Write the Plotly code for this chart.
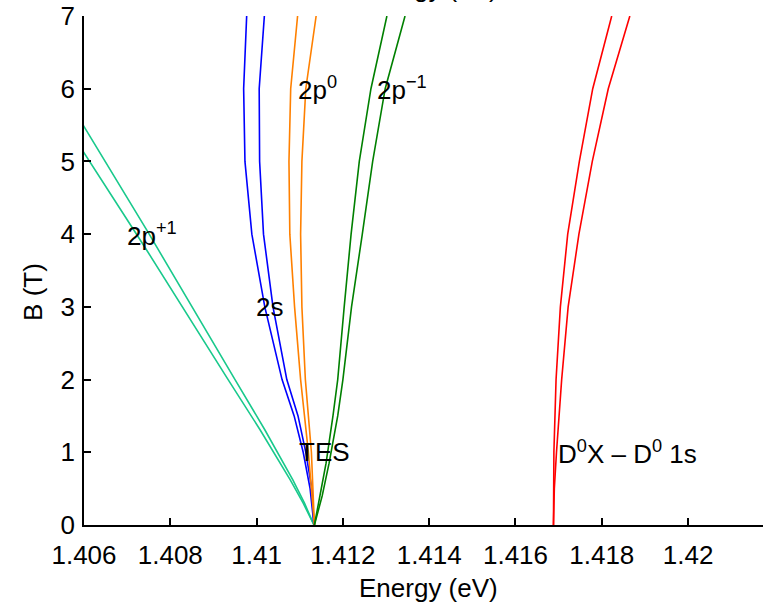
import plotly.graph_objects as go

# ---- data ----
# 2p+1 (teal)
b_2pp1_a = [0, 0.3, 0.62, 1.0, 1.31, 2, 2.68, 3.1, 3.83, 5.11, 5.30]
e_2pp1_a = [1.41133, 1.41108, 1.41078, 1.41040, 1.41008, 1.40934, 1.40862, 1.40817, 1.40740, 1.40601, 1.40581]
b_2pp1_b = [0, 0.3, 0.62, 1.0, 1.31, 2, 2.68, 3.1, 4.03, 5.44, 5.64]
e_2pp1_b = [1.41133, 1.41111, 1.41084, 1.41049, 1.41019, 1.40950, 1.40882, 1.40840, 1.40748, 1.40604, 1.40584]

# 2s (blue)
b_2s = [0, 0.5, 1, 1.5, 2, 3, 4, 5, 6, 7]
e_2s_a = [1.41133, 1.41124, 1.41108, 1.41087, 1.41059, 1.41019, 1.40989, 1.40973, 1.40970, 1.40977]
e_2s_b = [1.41133, 1.41128, 1.41114, 1.41096, 1.41070, 1.41038, 1.41016, 1.41007, 1.41006, 1.41018]

# 2p0 (orange)
b_2p0 = [0, 0.5, 1, 1.5, 2, 3, 4, 5, 6, 7]
e_2p0_a = [1.41134, 1.41127, 1.41120, 1.41111, 1.41102, 1.41088, 1.41077, 1.41075, 1.41079, 1.41095]
e_2p0_b = [1.41134, 1.41131, 1.41127, 1.41120, 1.41113, 1.41105, 1.41102, 1.41105, 1.41114, 1.41138]

# 2p-1 (green)
b_2pm1 = [0, 0.4, 0.85, 1.5, 2, 3, 4, 5, 6, 7]
e_2pm1_a = [1.41134, 1.41147, 1.41161, 1.41177, 1.41188, 1.41203, 1.41219, 1.41238, 1.41265, 1.41302]
e_2pm1_b = [1.41134, 1.41152, 1.41168, 1.41188, 1.41200, 1.41220, 1.41245, 1.41269, 1.41298, 1.41344]

# D0X - D0 1s (red)
b_d0x = [0, 0.5, 1, 2, 3, 4, 5, 6, 7]
e_d0x_a = [1.41688, 1.41688, 1.41689, 1.41694, 1.41704, 1.41721, 1.41748, 1.41779, 1.41823]
e_d0x_b = [1.41688, 1.41690, 1.41695, 1.41707, 1.41722, 1.41747, 1.41778, 1.41815, 1.41865]

x_tickvals = [1.406, 1.408, 1.41, 1.412, 1.414, 1.416, 1.418, 1.42]
x_ticktext = ["1.406", "1.408", "1.41", "1.412", "1.414", "1.416", "1.418", "1.42"]
y_tickvals = [0, 1, 2, 3, 4, 5, 6, 7]

labels = [
    ("2p<sup>+1</sup>", 1.40694, 4),
    ("2s", 1.40993, 3),
    ("2p<sup>0</sup>", 1.41092, 6),
    ("2p<sup>\u22121</sup>", 1.41275, 6),
    ("TES", 1.41094, 1),
    ("D<sup>0</sup>X \u2013 D<sup>0</sup> 1s", 1.41693, 1),
]

TEAL = "#19c98c"
BLUE = "#0000ff"
ORANGE = "#ff8000"
GREEN = "#008000"
RED = "#ff0000"

FONT = "Liberation Sans, Arial, Helvetica, sans-serif"
FS = 26

series = [
    (e_2pp1_a, b_2pp1_a, TEAL), (e_2pp1_b, b_2pp1_b, TEAL),
    (e_2s_a, b_2s, BLUE), (e_2s_b, b_2s, BLUE),
    (e_2p0_a, b_2p0, ORANGE), (e_2p0_b, b_2p0, ORANGE),
    (e_2pm1_a, b_2pm1, GREEN), (e_2pm1_b, b_2pm1, GREEN),
    (e_d0x_a, b_d0x, RED), (e_d0x_b, b_d0x, RED),
]

fig = go.Figure()
for xs, ys, c in series:
    fig.add_trace(go.Scatter(x=xs, y=ys, mode="lines",
                             line=dict(color=c, width=1.6),
                             showlegend=False, hoverinfo="skip"))

ann = []
for txt, x, y in labels:
    ann.append(dict(text=txt, x=x, y=y, xref="x", yref="y",
                    xanchor="left", yanchor="middle", showarrow=False,
                    font=dict(size=FS, color="black", family=FONT)))

# axis titles
ann.append(dict(text="Energy (eV)", x=0.508, y=-0.124, xref="paper", yref="paper",
                xanchor="center", yanchor="middle", showarrow=False,
                font=dict(size=FS, color="black", family=FONT)))
ann.append(dict(text="B (T)", x=-0.0751, y=0.458, xref="paper", yref="paper",
                xanchor="center", yanchor="middle", showarrow=False, textangle=-90,
                font=dict(size=FS, color="black", family=FONT)))
# partially visible title of the panel above
ann.append(dict(text="Energy (eV)", x=0.508, y=1.022, xref="paper", yref="paper",
                xanchor="center", yanchor="bottom", showarrow=False,
                font=dict(size=FS, color="black", family=FONT)))

fig.update_layout(
    width=763, height=606,
    margin=dict(l=84, r=0, t=16, b=81, autoexpand=False),
    paper_bgcolor="white", plot_bgcolor="white",
    font=dict(family=FONT, size=FS, color="black"),
    annotations=ann,
    xaxis=dict(range=[1.406, 1.421736], tickvals=x_tickvals, ticktext=x_ticktext,
               ticks="inside", ticklen=7, tickwidth=1.5, tickcolor="black",
               showline=True, linecolor="black", linewidth=1.5, automargin=False,
               showgrid=False, zeroline=False, ticklabelstandoff=6,
               tickfont=dict(size=FS, family=FONT, color="black")),
    yaxis=dict(range=[0, 7], tickvals=y_tickvals, automargin=False,
               ticks="inside", ticklen=7, tickwidth=1.5, tickcolor="black",
               showline=True, linecolor="black", linewidth=1.5,
               showgrid=False, zeroline=False, ticklabelstandoff=2,
               tickfont=dict(size=FS, family=FONT, color="black")),
)

fig.write_html(
    "out.html",
    config={"displayModeBar": False},
    post_script="document.body.style.margin='0px';document.body.style.overflow='hidden';",
)
